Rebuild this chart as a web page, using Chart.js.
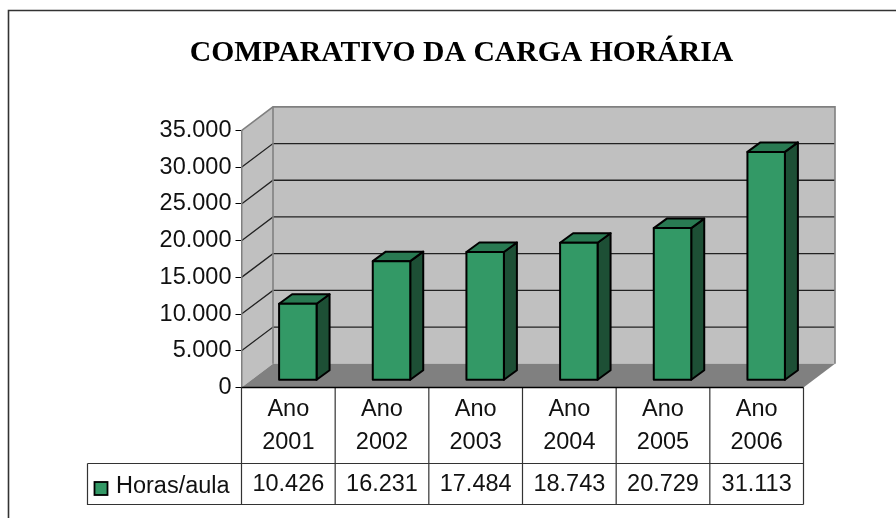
<!DOCTYPE html>
<html><head><meta charset="utf-8">
<style>html,body{margin:0;padding:0;background:#fff}#w{position:absolute;left:0;top:0;width:896px;height:518px}</style>
<script src="https://cdn.jsdelivr.net/npm/chart.js@4"></script>
</head><body><div id="w"><canvas id="c" width="896" height="518"></canvas></div>
<script>
const titleText = 'COMPARATIVO DA CARGA HORÁRIA';
const categories = [['Ano','2001'],['Ano','2002'],['Ano','2003'],['Ano','2004'],['Ano','2005'],['Ano','2006']];
const seriesName = 'Horas/aula';
const hoursValues = [10426,16231,17484,18743,20729,31113];
const yMax = 35000, yStep = 5000;

const SANS = '"Liberation Sans", Arial, sans-serif';
const FS = 23.5;
const fmt = v => String(v).replace(/\B(?=(\d{3})+$)/g,'.');

const WALL = {dx:31.5, dy:-23.7};
const BAR = {dx:13, dy:-9.5, sx:9.5, sy:-7.2};
const BW = 2;
const TABLE = {left:87.5, mid:463.5, bottom:504.5, textY:485};

const look3d = {
  id:'look3d',
  beforeDraw(chart){
    const c=chart.ctx, {left:l,right:r,top:t,bottom:b}=chart.chartArea, {dx,dy}=WALL;
    c.save();
    c.strokeStyle='#333'; c.lineWidth=1.6;
    c.beginPath(); c.moveTo(8.5,518); c.lineTo(8.5,10.5); c.lineTo(896,10.5); c.stroke();
    c.fillStyle='#C0C0C0';
    c.fillRect(l+dx,t+dy,r-l,b-t);
    c.beginPath(); c.moveTo(l,t); c.lineTo(l+dx,t+dy); c.lineTo(l+dx,b+dy); c.lineTo(l,b); c.closePath(); c.fill();
    c.fillStyle='#808080';
    c.beginPath(); c.moveTo(l,b); c.lineTo(r,b); c.lineTo(r+dx,b+dy); c.lineTo(l+dx,b+dy); c.closePath(); c.fill();
    const ys=chart.scales.y;
    c.strokeStyle='#222'; c.lineWidth=1.3;
    ys.ticks.forEach(k=>{
      if(k.value===0||k.value===yMax) return;
      const y=ys.getPixelForValue(k.value);
      c.beginPath(); c.moveTo(l,y); c.lineTo(l+dx,y+dy); c.lineTo(r+dx,y+dy); c.stroke();
    });
    c.strokeStyle='#808080'; c.lineWidth=1.6;
    c.beginPath(); c.moveTo(l,t); c.lineTo(l+dx,t+dy); c.lineTo(r+dx,t+dy); c.lineTo(r+dx,b+dy); c.stroke();
    c.beginPath(); c.moveTo(l+dx,t+dy); c.lineTo(l+dx,b+dy); c.stroke();
    c.restore();
  },
  beforeDatasetsDraw(chart){
    const c=chart.ctx; c.save(); c.translate(BAR.sx,BAR.sy);
    chart.getDatasetMeta(0).data.forEach(e=>{
      const x1=e.x+e.width/2, x0=e.x-e.width/2, y=e.y, b=e.base;
      c.lineWidth=BW; c.strokeStyle='#000'; c.lineJoin='round';
      c.fillStyle='#1D4F35';
      c.beginPath(); c.moveTo(x1,y); c.lineTo(x1+BAR.dx,y+BAR.dy); c.lineTo(x1+BAR.dx,b+BAR.dy); c.lineTo(x1,b); c.closePath(); c.fill(); c.stroke();
      c.fillStyle='#297A52';
      c.beginPath(); c.moveTo(x0,y); c.lineTo(x0+BAR.dx,y+BAR.dy); c.lineTo(x1+BAR.dx,y+BAR.dy); c.lineTo(x1,y); c.closePath(); c.fill(); c.stroke();
    });
  },
  afterDatasetsDraw(chart){
    const c=chart.ctx;
    chart.getDatasetMeta(0).data.forEach(e=>{
      c.lineWidth=BW; c.strokeStyle='#000';
      c.strokeRect(e.x-e.width/2,e.y,e.width,e.base-e.y);
    });
    c.restore();
    const xs=chart.scales.x, {left:l,right:r,bottom:b}=chart.chartArea;
    c.save();
    c.strokeStyle='#333'; c.lineWidth=1.2;
    c.beginPath();
    const step=(r-l)/categories.length;
    for(let i=0;i<=categories.length;i++){ const x=l+i*step; c.moveTo(x,b); c.lineTo(x,TABLE.bottom); }
    c.moveTo(TABLE.left,TABLE.mid); c.lineTo(r,TABLE.mid);
    c.moveTo(TABLE.left,TABLE.mid); c.lineTo(TABLE.left,TABLE.bottom); c.lineTo(r,TABLE.bottom);
    c.stroke();
    c.strokeStyle='#000'; c.lineWidth=1.5;
    c.beginPath(); c.moveTo(l,b); c.lineTo(r,b); c.stroke();
    c.fillStyle='#111'; c.font=FS+'px '+SANS; c.textBaseline='middle'; c.textAlign='center';
    hoursValues.forEach((v,i)=>c.fillText(fmt(v),xs.getPixelForValue(i),TABLE.textY));
    c.textAlign='left';
    c.fillText(seriesName,116,TABLE.textY+1.5);
    c.fillStyle='#339966'; c.strokeStyle='#000'; c.lineWidth=1.8;
    c.fillRect(94.5,482,13,13); c.strokeRect(94.5,482,13,13);
    c.restore();
  }
};

new Chart(document.getElementById('c'),{
  type:'bar',
  data:{labels:categories,datasets:[{label:seriesName,data:hoursValues,backgroundColor:'#339966',borderWidth:0,inflateAmount:0,categoryPercentage:1,barPercentage:0.4}]},
  plugins:[look3d],
  options:{
    responsive:false,animation:false,
    layout:{autoPadding:false,padding:{left:119.5,right:92.5,top:0,bottom:0}},
    plugins:{
      legend:{display:false},tooltip:{enabled:false},
      title:{display:true,text:titleText,color:'#000',font:{family:'"Liberation Serif","Times New Roman",serif',size:29.7,weight:'bold',lineHeight:1.2},padding:{top:36,bottom:58.9}}
    },
    scales:{
      x:{
        afterFit(s){s.height=130.5;},
        grid:{display:false},border:{display:false},
        ticks:{color:'#111',font:{family:SANS,size:FS,lineHeight:1.39},padding:-2,maxRotation:0,minRotation:0,autoSkip:false}
      },
      y:{
        min:0,max:yMax,
        afterFit(s){s.width=122;},
        grid:{drawOnChartArea:false,color:'#000',tickLength:6,lineWidth:1},
        border:{color:'#808080',width:1.5},
        ticks:{stepSize:yStep,color:'#111',font:{family:SANS,size:FS},padding:4,callback:v=>fmt(v)}
      }
    }
  }
});
</script></body></html>
